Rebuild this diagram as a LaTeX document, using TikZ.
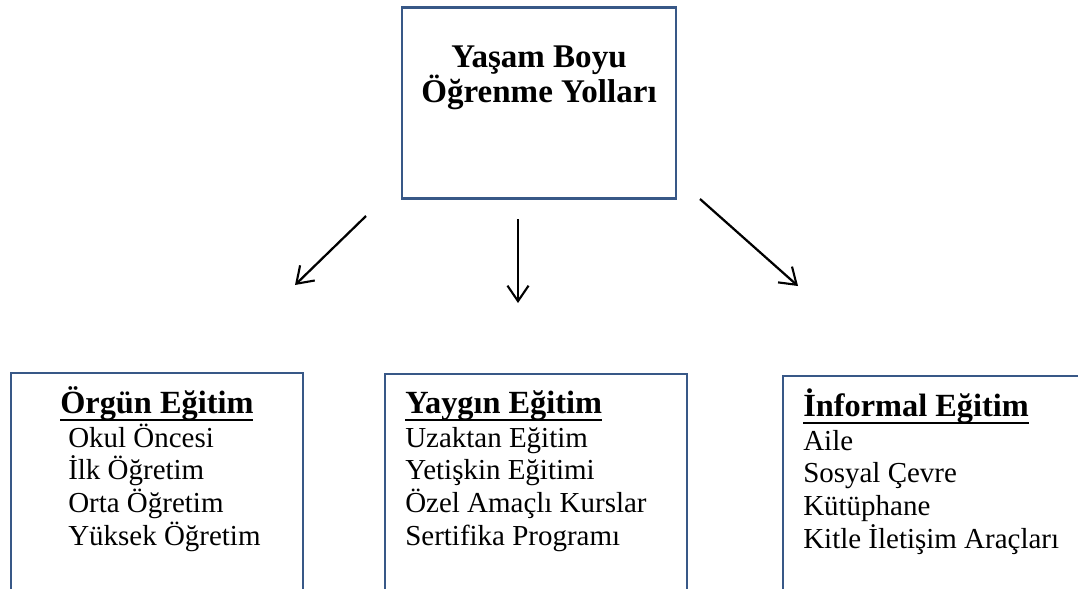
\documentclass[tikz,border=0pt]{standalone}
\usepackage{fontspec}
\setmainfont{Liberation Serif}
\usepackage{tikz}
\usetikzlibrary{arrows.meta,positioning}
\definecolor{boxblue}{RGB}{56,88,135}
\newlength{\ulwd}
\newcommand{\thickul}[1]{\settowidth{\ulwd}{#1}\rlap{\rule[-5.6pt]{\ulwd}{1.6pt}}#1}

\begin{document}
\begin{tikzpicture}[
  x=0.025cm, y=-0.025cm,
  frame/.style={draw=boxblue, line width=1.5pt, inner sep=0pt},
  head/.style={anchor=base west, inner sep=0pt, font=\fontsize{23}{26}\selectfont\bfseries},
  title/.style={anchor=base, inner sep=0pt, font=\fontsize{23.5}{26}\selectfont\bfseries},
  item/.style={anchor=base west, inner sep=0pt, font=\fontsize{20.6}{23}\selectfont},
  link/.style={-{Straight Barb[length=11pt,width=15pt,line width=1.5pt]}, line width=1.6pt, black}
]
  \useasboundingbox (0,0) rectangle (1078,588);
  \clip (0,0) rectangle (1078,588);

  %% Top box
  \node[frame, minimum width=274*0.025cm, minimum height=191*0.025cm] (top) at (539,103) {};
  \node[title] (t1) at (539,67)  {Yaşam Boyu};
  \node[title] (t2) at (539,102) {Öğrenme Yolları};

  %% Arrows (not touching the boxes)
  \coordinate (a1s) at (366,216); \coordinate (a1e) at (295,285);
  \coordinate (a2s) at (518,219); \coordinate (a2e) at (518,303);
  \coordinate (a3s) at (700,199); \coordinate (a3e) at (798,286);
  \draw[link] (a1s) -- (a1e);
  \draw[link] (a2s) -- (a2e);
  \draw[link] (a3s) -- (a3e);

  %% Bottom boxes (run past the lower edge)
  \node[frame, anchor=north west, minimum width=292*0.025cm, minimum height=260*0.025cm] (orgun)   at (10,372) {};
  \node[frame, anchor=north west, minimum width=302*0.025cm, minimum height=260*0.025cm] (yaygin)  at (384,373) {};
  \node[frame, anchor=north west, minimum width=340*0.025cm, minimum height=260*0.025cm] (informal) at (782,375) {};

  %% Örgün
  \node[head] (orgunH) at (60,413) {\thickul{Örgün Eğitim}};
  \foreach \t [count=\i] in {Okul Öncesi, İlk Öğretim, Orta Öğretim, Yüksek Öğretim}
    \node[item] (orgun\i) at (68,{447+32.7*(\i-1)}) {\t};

  %% Yaygın
  \node[head] (yayginH) at (405,413) {\thickul{Yaygın Eğitim}};
  \foreach \t [count=\i] in {Uzaktan Eğitim, Yetişkin Eğitimi, Özel Amaçlı Kurslar, Sertifika Programı}
    \node[item] (yaygin\i) at (405,{447+32.7*(\i-1)}) {\t};

  %% İnformal
  \node[head] (informalH) at (803,416) {\thickul{İnformal Eğitim}};
  \foreach \t [count=\i] in {Aile, Sosyal Çevre, Kütüphane, Kitle İletişim Araçları}
    \node[item] (informal\i) at (803,{450+32.7*(\i-1)}) {\t};
\end{tikzpicture}
\end{document}
